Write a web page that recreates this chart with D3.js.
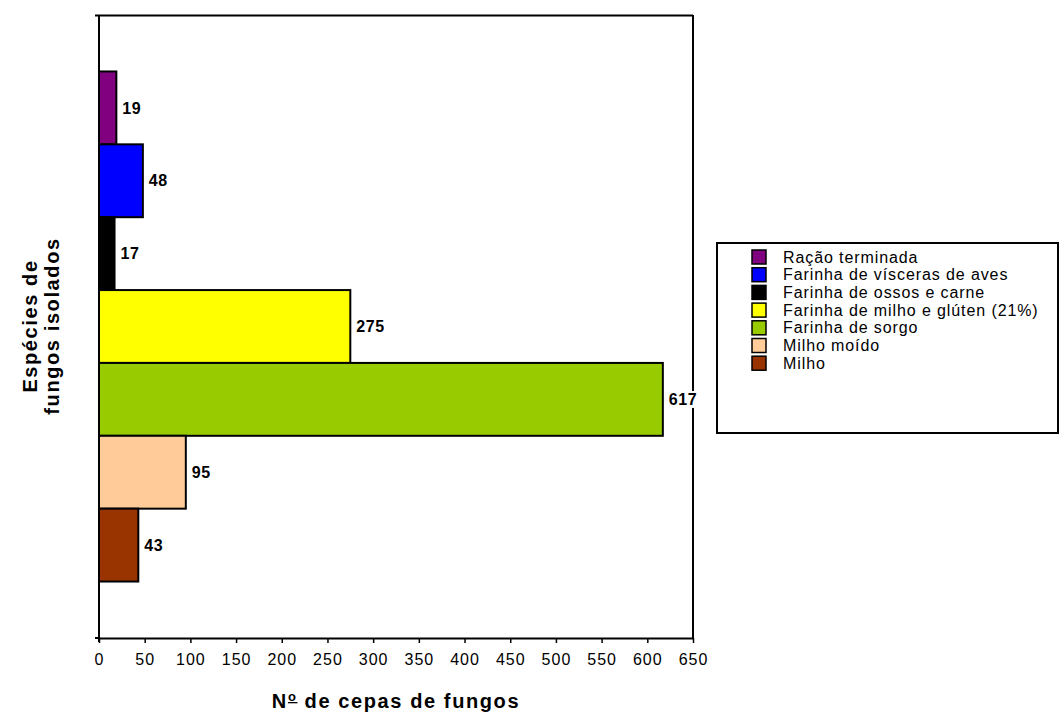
<!DOCTYPE html>
<html><head><meta charset="utf-8">
<script src="https://cdn.jsdelivr.net/npm/d3@7"></script>
<style>body{margin:0;background:#fff;font-family:"Liberation Sans",Arial,sans-serif}</style>
</head><body>
<svg id="c" width="1060" height="713"></svg>
<script>
const seriesNames = ["Ração terminada","Farinha de vísceras de aves","Farinha de ossos e carne","Farinha de milho e glúten (21%)","Farinha de sorgo","Milho moído","Milho"];
const seriesValues = [19,48,17,275,617,95,43];
const seriesColors = ["#800080","#0000FF","#000000","#FFFF00","#99CC00","#FFCC99","#993300"];
const xTicks = [0,50,100,150,200,250,300,350,400,450,500,550,600,650];

const svg = d3.select("#c");
const L=99,R=693,T=15,B=638;
const x = d3.scaleLinear().domain([0,650]).range([L,R]);
const y = d3.scaleBand().domain(seriesNames).range([T,B]).paddingInner(0).paddingOuter(0.775);

// plot border (top + right)
svg.append("line").attr("x1",L).attr("x2",R).attr("y1",T+0.5).attr("y2",T+0.5).attr("stroke","#000").attr("stroke-width",2);
svg.append("line").attr("x1",R).attr("x2",R).attr("y1",T).attr("y2",B).attr("stroke","#000").attr("stroke-width",2);

// bars
svg.selectAll("rect.bar").data(seriesNames).join("rect")
  .attr("x",x(0)).attr("y",d=>y(d))
  .attr("width",(d,i)=>x(seriesValues[i])-x(0)).attr("height",y.bandwidth())
  .attr("fill",(d,i)=>seriesColors[i]).attr("stroke","#000").attr("stroke-width",2);

// value labels
const lg = svg.selectAll("g.lab").data(seriesNames).join("g");
lg.each(function(d,i){
  const g=d3.select(this);
  const t=g.append("text").attr("x",x(seriesValues[i])+6).attr("y",y(d)+y.bandwidth()/2)
   .attr("dy","0.35em").attr("font-size",16).attr("font-weight","bold").attr("letter-spacing",0.6).text(seriesValues[i]);
  const bb=t.node().getBBox();
  g.insert("rect","text").attr("x",bb.x-2).attr("y",bb.y).attr("width",bb.width+3).attr("height",bb.height).attr("fill","#fff");
});

// x axis
const xa = svg.append("g").attr("transform",`translate(0,${B})`)
  .call(d3.axisBottom(x).tickValues(xTicks).tickSize(5).tickSizeOuter(0).tickPadding(11));
xa.select(".domain").attr("stroke","#000").attr("stroke-width",2);
xa.selectAll(".tick line").attr("stroke","#000").attr("stroke-width",1.5);
xa.selectAll("text").attr("font-size",16).attr("letter-spacing",1)
  .attr("font-family","Liberation Sans, Arial, sans-serif").attr("fill","#000");

// y axis line with end ticks
svg.append("line").attr("x1",L).attr("x2",L).attr("y1",T).attr("y2",B+4).attr("stroke","#000").attr("stroke-width",2);
svg.append("line").attr("x1",L-4).attr("x2",L).attr("y1",T+0.5).attr("y2",T+0.5).attr("stroke","#000").attr("stroke-width",2);
svg.append("line").attr("x1",L-4).attr("x2",L).attr("y1",B).attr("y2",B).attr("stroke","#000").attr("stroke-width",2);

// axis titles
const xt = svg.append("text").attr("x",396).attr("y",708).attr("text-anchor","middle")
  .attr("font-size",20).attr("font-weight","bold").attr("letter-spacing",1.6);
xt.append("tspan").text("N");
xt.append("tspan").attr("font-size",13).attr("dy",-7).attr("text-decoration","underline").text("o");
xt.append("tspan").attr("dy",7).text(" de cepas de fungos");

const yt = svg.append("text").attr("transform","translate(0,326) rotate(-90)")
  .attr("text-anchor","middle").attr("font-size",20).attr("font-weight","bold").attr("letter-spacing",1.6);
yt.append("tspan").attr("x",0).attr("y",37).text("Espécies de");
yt.append("tspan").attr("x",0).attr("y",59).text("fungos isolados");

// legend
const lgx=717, lgy=243;
svg.append("rect").attr("x",lgx).attr("y",lgy).attr("width",341).attr("height",190)
  .attr("fill","#fff").attr("stroke","#000").attr("stroke-width",2);
const items = svg.selectAll("g.leg").data(seriesNames).join("g")
  .attr("transform",(d,i)=>`translate(752,${250+i*17.7})`);
items.append("rect").attr("width",14).attr("height",14)
  .attr("fill",(d,i)=>seriesColors[i]).attr("stroke","#000").attr("stroke-width",1.5);
items.append("text").attr("x",31).attr("y",7).attr("dy","0.35em").attr("font-size",16)
  .attr("letter-spacing",0.9).text(d=>d);
</script>
</body></html>
